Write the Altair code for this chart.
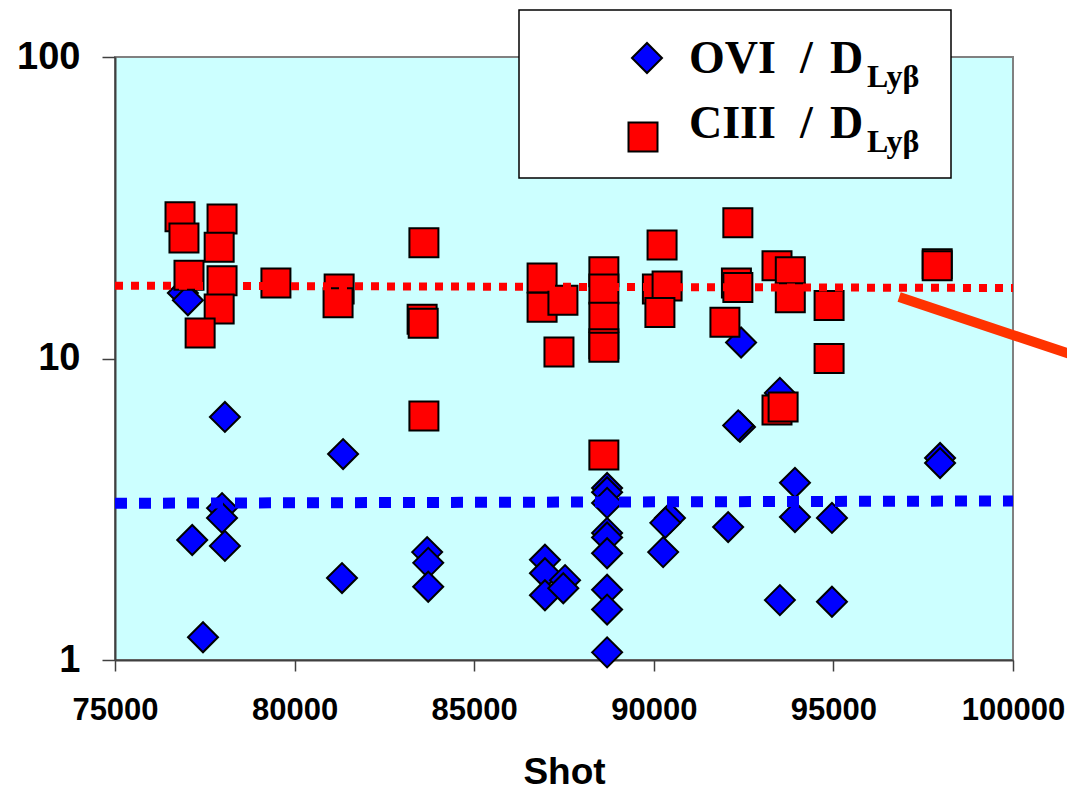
import altair as alt
import pandas as pd

# ---- data ----
ovi_shot = [76890, 77030, 78060, 81350, 77980, 77980, 77150, 78060, 81320, 77450,
            83690, 83720, 83720, 86970, 86970, 86970, 87530, 87480,
            88700, 88700, 88700, 88700, 88700, 88700, 88700, 88700, 88700,
            90450, 90320, 90260, 92430, 92400, 92350, 92070, 93510, 93510,
            93930, 93930, 94960, 94960, 97970, 97970]
ovi_val = [16.5, 15.6, 6.4, 4.82, 3.19, 2.96, 2.50, 2.39, 1.87, 1.19,
           2.28, 2.10, 1.75, 2.15, 1.94, 1.64, 1.84, 1.73,
           3.72, 3.60, 3.32, 2.64, 2.55, 2.26, 1.71, 1.47, 1.06,
           2.96, 2.85, 2.28, 11.3, 5.93, 6.0, 2.76, 7.69, 1.58,
           3.87, 2.98, 2.96, 1.56, 4.68, 4.50]

ciii_shot = [76810, 77980, 76920, 77900, 77060, 77980, 79480, 81240, 81210, 77900,
             77370, 83600, 83550, 83580, 83600, 86890, 86890, 87470, 87360,
             88610, 88610, 88610, 88610, 88610, 88610,
             90230, 90100, 90370, 90170, 92340, 92300, 92340, 91980,
             93430, 93800, 93800, 94880, 94880, 93430, 93600, 97890, 97890]
ciii_val = [29.5, 29.0, 25.1, 23.4, 18.9, 18.1, 17.8, 17.0, 15.3, 14.6,
            12.15, 24.2, 13.5, 13.1, 6.45, 18.5, 14.8, 15.6, 10.5,
            19.4, 17.0, 13.7, 11.2, 10.9, 4.79,
            23.8, 17.0, 17.4, 14.2, 28.2, 17.8, 17.2, 13.2,
            20.3, 19.4, 15.9, 15.0, 10.0, 6.75, 6.9, 20.6, 20.3]

ciii_trend_shot = [75000, 100000]
ciii_trend_val = [17.44, 17.13]
ovi_trend_shot = [75000, 100000]
ovi_trend_val = [3.31, 3.37]
arrow_shot = [96830, 102000]
arrow_val = [16.0, 9.96]

x_ticks = [75000, 80000, 85000, 90000, 95000, 100000]
y_ticks = [1, 10, 100]

ovi_df = pd.DataFrame({"shot": ovi_shot, "ratio": ovi_val})
ciii_df = pd.DataFrame({"shot": ciii_shot, "ratio": ciii_val})
ciii_tr = pd.DataFrame({"shot": ciii_trend_shot, "ratio": ciii_trend_val})
ovi_tr = pd.DataFrame({"shot": ovi_trend_shot, "ratio": ovi_trend_val})
arrow_df = pd.DataFrame({"shot": arrow_shot, "ratio": arrow_val})
one = pd.DataFrame({"k": [0]})

W, H = 898, 603
xs = alt.Scale(domain=[75000, 100000], nice=False, zero=False)
ys = alt.Scale(type="log", domain=[1, 100], nice=False)

x_axis = alt.Axis(values=x_ticks, format="d", grid=False,
                  labelFont="Liberation Sans", labelFlush=False, labelOverlap=False,
                  labelFontSize=31, labelFontWeight="bold", labelColor="black",
                  tickSize=11, tickColor="#404040", tickWidth=1.5,
                  domainColor="#404040", domainWidth=2, labelPadding=24,
                  title="Shot", titleFont="Liberation Sans", titleFontSize=37,
                  titleFontWeight="bold", titleColor="black", titlePadding=29)
y_axis = alt.Axis(values=y_ticks, format="d", grid=False,
                  labelFont="Liberation Sans", labelFontSize=38,
                  labelFontWeight="bold", labelColor="black",
                  tickSize=13, tickColor="#404040", tickWidth=1.5,
                  domainColor="#404040", domainWidth=2, labelPadding=22,
                  title=None)


def enc(ch):
    return ch.encode(x=alt.X("shot:Q", scale=xs, axis=x_axis),
                     y=alt.Y("ratio:Q", scale=ys, axis=y_axis))


ovi_pts = enc(alt.Chart(ovi_df).mark_point(
    shape="diamond", filled=True, fill="#0000FF", stroke="#000000",
    strokeWidth=2, size=900, opacity=1, fillOpacity=1))

ciii_pts = enc(alt.Chart(ciii_df).mark_point(
    shape="square", filled=True, fill="#FF0000", stroke="#000000",
    strokeWidth=2, size=841, opacity=1, fillOpacity=1))

ciii_line = enc(alt.Chart(ciii_tr).mark_line(
    color="#FF0000", strokeWidth=8, strokeDash=[8, 8], strokeCap="butt"))

ovi_line = enc(alt.Chart(ovi_tr).mark_line(
    color="#0000FF", strokeWidth=11, strokeDash=[12, 12], strokeCap="butt"))

arrow = enc(alt.Chart(arrow_df).mark_line(
    color="#FF3300", strokeWidth=10, strokeCap="butt", clip=False))

# ---- legend box ----
leg_box = alt.Chart(one).mark_rect(
    fill="white", stroke="black", strokeWidth=1.5
).encode(x=alt.value(404), x2=alt.value(836), y=alt.value(-47), y2=alt.value(121))

leg_dia = alt.Chart(one).mark_point(
    shape="diamond", filled=True, fill="#0000FF", stroke="#000000",
    strokeWidth=2, size=900, opacity=1
).encode(x=alt.value(532), y=alt.value(1))
leg_sq = alt.Chart(one).mark_point(
    shape="square", filled=True, fill="#FF0000", stroke="#000000",
    strokeWidth=2, size=841, opacity=1
).encode(x=alt.value(528), y=alt.value(80))


def txt(s, x, y, size):
    return alt.Chart(one).mark_text(
        align="left", baseline="alphabetic", font="Liberation Serif",
        fontWeight="bold", fontSize=size, color="black"
    ).encode(x=alt.value(x), y=alt.value(y), text=alt.value(s))


leg_texts = [
    txt("OVI", 574, 16, 46), txt("/", 685, 16, 46), txt("D", 715, 16, 46),
    txt("Lyβ", 752, 30, 32),
    txt("CIII", 574, 81, 46), txt("/", 685, 81, 46), txt("D", 715, 81, 46),
    txt("Lyβ", 752, 95, 32),
]

chart = alt.layer(
    ovi_pts, ciii_pts, ciii_line, ovi_line, arrow, leg_box, leg_dia, leg_sq,
    *leg_texts
).properties(
    width=W, height=H,
    autosize=alt.AutoSizeParams(type="none"),
    padding={"left": 115, "top": 57, "right": 54, "bottom": 132},
    background="white"
).configure_view(
    fill="#CCFFFF", stroke="#808080", strokeWidth=2
)

chart.save("out.html", embed_options={"renderer": "svg", "actions": False})
